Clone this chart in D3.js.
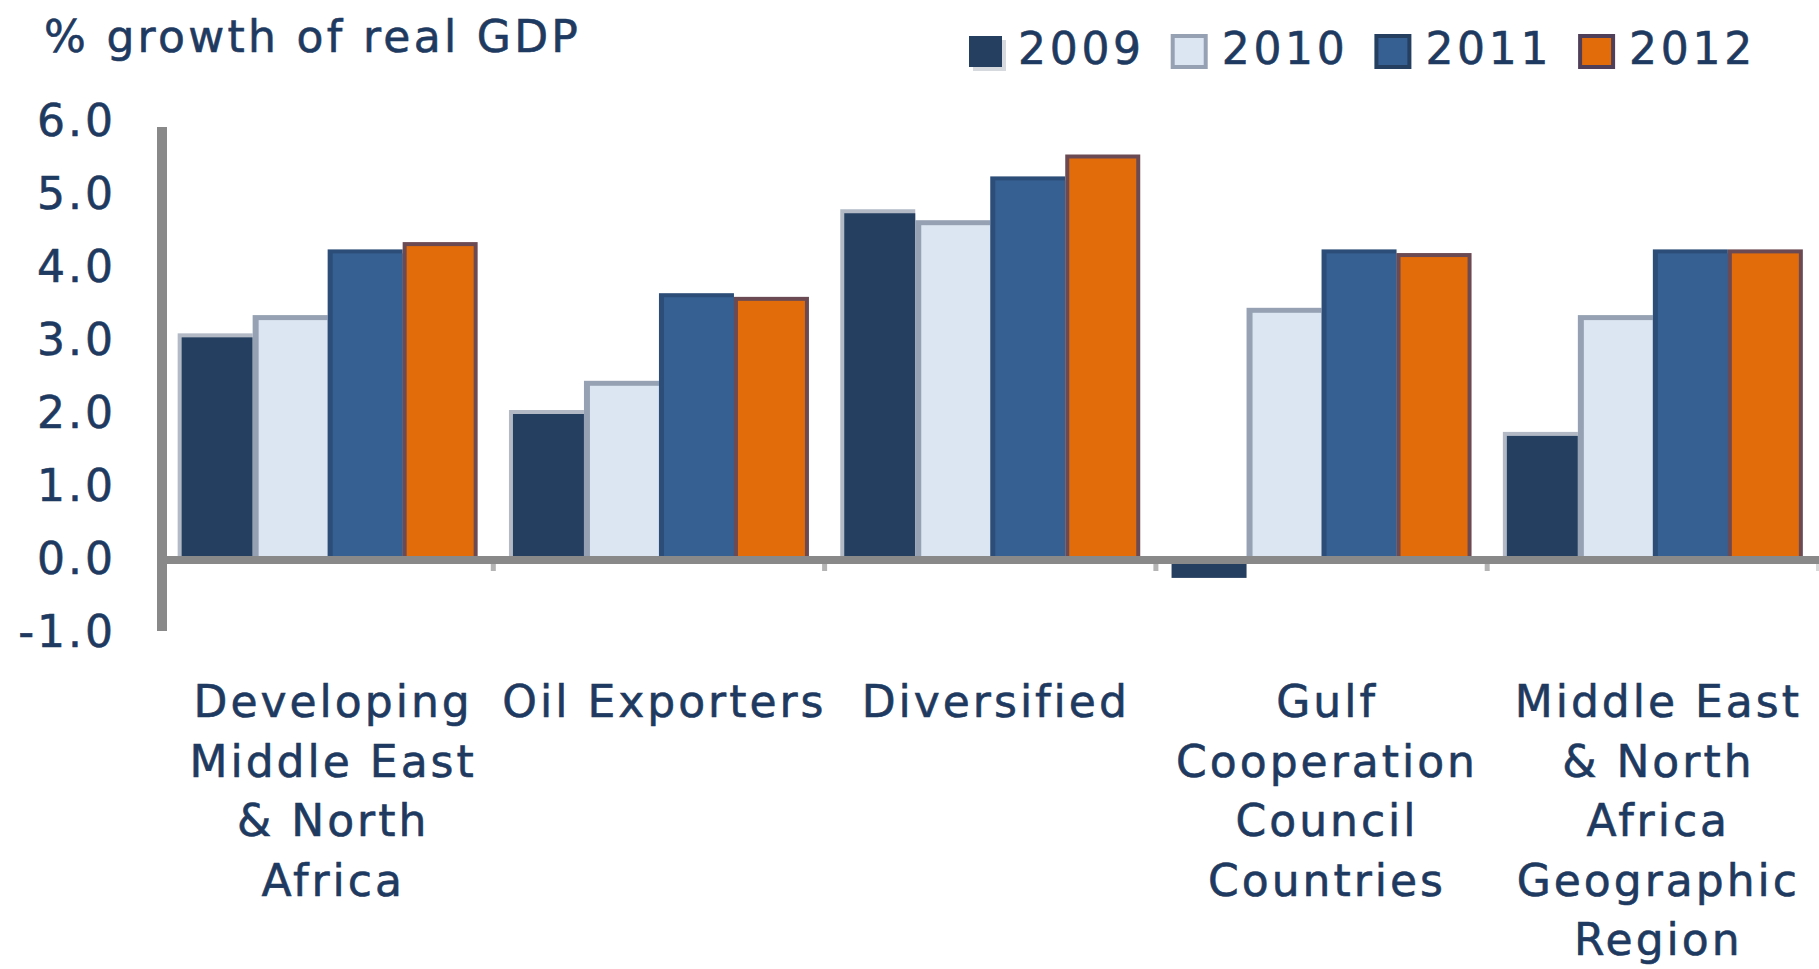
<!DOCTYPE html>
<html>
<head>
<meta charset="utf-8">
<script src="https://cdn.jsdelivr.net/npm/d3@7"></script>
<style>
  html, body { margin: 0; padding: 0; background: #ffffff; }
  svg { display: block; }
  text { font-family: "DejaVu Sans", "Open Sans", sans-serif; fill: #1f3a60; stroke: #1f3a60; stroke-width: 0.6px; }
</style>
</head>
<body>
<svg id="chart" width="1819" height="969"></svg>
<script>
// ---- data ----
const categories = ["Developing Middle East & North Africa", "Oil Exporters", "Diversified",
  "Gulf Cooperation Council Countries", "Middle East & North Africa Geographic Region"];
const categoryLines = [
  ["Developing", "Middle East", "& North", "Africa"],
  ["Oil Exporters"],
  ["Diversified"],
  ["Gulf", "Cooperation", "Council", "Countries"],
  ["Middle East", "& North", "Africa", "Geographic", "Region"]
];
const years = ["2009", "2010", "2011", "2012"];
const growth2009 = [3.05, 2.0, 4.75, -0.3, 1.7];
const growth2010 = [3.3, 2.4, 4.6, 3.4, 3.3];
const growth2011 = [4.2, 3.6, 5.2, 4.2, 4.2];
const growth2012 = [4.3, 3.55, 5.5, 4.15, 4.2];
const yTickValues = [-1, 0, 1, 2, 3, 4, 5, 6];
const yTickLabels = ["-1.0", "0.0", "1.0", "2.0", "3.0", "4.0", "5.0", "6.0"];
const titleText = "% growth of real GDP";

const seriesValues = [growth2009, growth2010, growth2011, growth2012];

// ---- styles ----
const fills = ["#253f60", "#dce6f2", "#366092", "#e36c0a"];
const edges = ["#b3bac6", "#96a2b3", "#2b4d78", "#6c4a53"];
const insets = [ {l:4,t:4,r:0}, {l:6,t:5,r:0}, {l:5,t:4,r:0}, {l:4,t:4,r:4} ];
const legendStroke = [null, "#96a2b3", "#253f60", "#4f3f58"];
const axisColor = "#898989";
const fontSize = 44;
const ls = 3;

const svg = d3.select("#chart");

// ---- scales ----
const y = d3.scaleLinear().domain([-1, 6]).range([629, 118]);
const x0 = d3.scaleBand().domain(categories).range([162, 1818.5])
  .paddingInner(0.0945).paddingOuter(0.04725);
const x1 = d3.scaleBand().domain(years).range([0, x0.bandwidth()]);

// ---- title ----
svg.append("text").attr("x", 44).attr("y", 52)
  .attr("font-size", fontSize).attr("letter-spacing", 3.3)
  .text(titleText);

// ---- legend ----
const legend = svg.append("g");
years.forEach((yr, i) => {
  const lx = 969 + i * 203.7;
  const g = legend.append("g");
  if (i === 0) {
    g.append("rect").attr("x", lx + 4).attr("y", 40).attr("width", 33).attr("height", 31).attr("fill", "#d6d9de");
  }
  g.append("rect").attr("x", lx).attr("y", 36).attr("width", 33).attr("height", 31)
    .attr("fill", fills[i])
    .attr("stroke", legendStroke[i] || "none")
    .attr("stroke-width", legendStroke[i] ? 4 : 0);
  g.append("text").attr("x", lx + 49).attr("y", 64)
    .attr("font-size", fontSize).attr("letter-spacing", ls + 0.7).text(yr);
});

// ---- bars ----
const groups = svg.append("g").selectAll("g").data(categories).join("g")
  .attr("transform", d => `translate(${x0(d)},0)`);

groups.each(function(cat, ci) {
  const g = d3.select(this);
  years.forEach((yr, si) => {
    const v = seriesValues[si][ci];
    const bx = x1(yr), bw = x1.bandwidth();
    const yTop = y(Math.max(v, 0)), yBot = y(Math.min(v, 0));
    if (v >= 0) {
      const ins = insets[si];
      g.append("rect").attr("x", bx).attr("y", yTop).attr("width", bw).attr("height", yBot - yTop)
        .attr("fill", edges[si]);
      g.append("rect").attr("x", bx + ins.l).attr("y", yTop + ins.t)
        .attr("width", bw - ins.l - ins.r).attr("height", yBot - yTop - ins.t)
        .attr("fill", fills[si]);
    } else {
      g.append("rect").attr("x", bx).attr("y", yTop).attr("width", bw).attr("height", yBot - yTop)
        .attr("fill", fills[si]);
    }
  });
});

// ---- axes ----
const step = x0.step();
const halfGap = step * x0.paddingInner() / 2;
categories.forEach((c, i) => {
  if (i === 0) return;
  svg.append("rect").attr("x", x0(c) - halfGap - 2.5).attr("y", y(0) + 8)
    .attr("width", 5).attr("height", 7).attr("fill", "#b4b4b4");
});
svg.append("rect").attr("x", x0(categories[4]) + x0.bandwidth() + halfGap - 2.5).attr("y", y(0) + 8)
  .attr("width", 5).attr("height", 7).attr("fill", "#d8d8d8");

// zero line
svg.append("rect").attr("x", 157).attr("y", y(0)).attr("width", 1819 - 157).attr("height", 8)
  .attr("fill", axisColor);
// vertical axis line
svg.append("rect").attr("x", 157).attr("y", y(6) + 9).attr("width", 10)
  .attr("height", y(-1) + 2 - (y(6) + 9)).attr("fill", axisColor);

// y tick labels
svg.append("g").selectAll("text").data(yTickValues).join("text")
  .attr("x", 113 + ls).attr("y", d => y(d) + 18)
  .attr("text-anchor", "end")
  .attr("font-size", fontSize).attr("letter-spacing", ls)
  .text((d, i) => yTickLabels[i]);

// category labels
categories.forEach((c, i) => {
  const cx = x0(c) + x0.bandwidth() / 2 + 4 + ls / 2;
  const t = svg.append("text").attr("text-anchor", "middle")
    .attr("font-size", fontSize).attr("letter-spacing", ls);
  categoryLines[i].forEach((line, li) => {
    t.append("tspan").attr("x", cx).attr("y", 717 + li * 59.5).text(line);
  });
});
</script>
</body>
</html>
